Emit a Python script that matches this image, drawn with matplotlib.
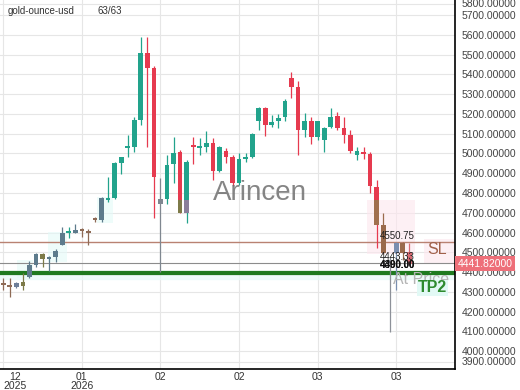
import matplotlib
matplotlib.use("Agg")
import numpy as np
import matplotlib.pyplot as plt
from matplotlib.patches import Rectangle

plt.rcParams["font.family"] = ["Liberation Sans", "DejaVu Sans"]

SYMBOL = "gold-ounce-usd"
COUNT = "63/63"
WATERMARK = "Arincen"

# daily OHLC, 63 candles
opens = [4340, 4334, 4322, 4348, 4373, 4435, 4491, 4466, 4475, 4537,
         4598, 4600, 4611, 4609, 4665, 4665, 4767, 4775, 4953, 5030,
         5035, 5170, 5507, 5431, 4768, 4768, 4945, 5009, 4697, 5037,
         5030, 5035, 5052, 4913, 5014, 4984, 4852, 4972, 4981, 5162,
         5229, 5144, 5162, 5183, 5381, 5338, 5119, 5162, 5082, 5068,
         5136, 5190, 5128, 5094, 4994, 5009, 4998, 4829, 4638, 4461,
         4495, 4545, 4500]
closes = [4336, 4322, 4343, 4329, 4435, 4491, 4464, 4475, 4506, 4596,
          4602, 4613, 4607, 4596, 4669, 4773, 4776, 4953, 4984, 5036,
          5170, 5507, 5431, 4883, 4743, 4943, 5004, 4697, 4958, 5033,
          5040, 5055, 4913, 5035, 4984, 4849, 4971, 4984, 5099, 5229,
          5144, 5158, 5178, 5267, 5338, 5119, 5162, 5082, 5162, 5128,
          5186, 5128, 5094, 5013, 5013, 4998, 4836, 4638, 4495, 4443,
          4545, 4498, 4442]
highs = [4370, 4368, 4350, 4397, 4457, 4498, 4498, 4481, 4515, 4630,
         4630, 4642, 4621, 4616, 4680, 4781, 4883, 4959, 4984, 5094,
         5186, 5592, 5592, 5443, 4878, 4992, 5085, 5018, 4967, 5082,
         5077, 5116, 5077, 5040, 5026, 4992, 5001, 5004, 5105, 5237,
         5237, 5195, 5200, 5274, 5411, 5369, 5204, 5186, 5166, 5136,
         5232, 5212, 5183, 5119, 5035, 5035, 5009, 4866, 4700, 4478,
         4554, 4554, 4548]
lows = [4309, 4275, 4318, 4309, 4368, 4424, 4424, 4407, 4452, 4537,
        4571, 4596, 4579, 4537, 4655, 4655, 4756, 4768, 4896, 4984,
        5009, 5144, 5035, 4672, 4402, 4744, 4849, 4697, 4650, 4947,
        4992, 5009, 4866, 4908, 4950, 4836, 4841, 4959, 4976, 5119,
        5089, 5136, 5128, 5166, 5280, 4992, 5082, 5048, 5068, 5009,
        5128, 5119, 5052, 5001, 4967, 4971, 4799, 4520, 4490, 4098,
        4309, 4461, 4436]

x_ticks = [0, 12, 24, 36, 48, 60]
x_tick_labels = ["12\n2025", "01\n2026", "02", "02", "03", "03"]
y_ticks = list(range(4000, 5701, 100))
y_edge_labels = [5800, 3900]          # squeezed in at the top / bottom edge

sl_level = 4550.75
entry_level = 4443.33
tp_levels = [4390.00, 4400.00]
last_price = 4441.82

# highlight boxes: (first idx, last idx, low, high)
cyan_zones = [(2.1, 4.6, 4370, 4461), (6.8, 9.7, 4451, 4603), (14.3, 16.8, 4648, 4780)]
pink_zones = [(55.6, 62.8, 4490, 4765), (64.3, 69.0, 4440, 4565)]

TEAL = "#22a38c"
RED = "#e63a4f"
GRAYBLUE = "#5d7b8c"
OLIVE = "#7d7a48"
BROWN = "#8e6a55"
body_override = {0: BROWN, 1: BROWN, 2: "#6d7f99", 3: OLIVE, 4: GRAYBLUE, 5: GRAYBLUE,
                 6: OLIVE, 7: GRAYBLUE, 8: GRAYBLUE, 9: GRAYBLUE, 11: GRAYBLUE,
                 12: BROWN, 13: BROWN, 14: BROWN, 15: GRAYBLUE, 24: "#7f8790",
                 58: "#9a6a4c", 59: "#8d9199", 60: "#7a8fb0", 61: "#9a6a4c", 62: "#d86a72"}
# lower part of some bodies shows in another tint
lower_tint = {27: (4765, OLIVE), 28: (4765, "#8a7f9a"), 57: (4765, "#a0704e")}

fig = plt.figure(figsize=(5.2, 3.9), dpi=100)
ax = fig.add_axes([0, 1 - 369 / 390, 455 / 520, 369 / 390])
ax.set_xlim(-0.5, 68.96)
ax.set_ylim(3909, 5777)

idx = np.arange(len(opens))
o, c = np.array(opens, float), np.array(closes, float)
up = c >= o
colors = [body_override.get(i, TEAL if up[i] else RED) for i in idx]

# zones
for x0, x1, lo, hi in cyan_zones:
    ax.add_patch(Rectangle((x0, lo), x1 - x0, hi - lo, fc="#e4faf8", ec="none", alpha=0.6, zorder=1))
for x0, x1, lo, hi in pink_zones:
    ax.add_patch(Rectangle((x0, lo), x1 - x0, hi - lo, fc="#fde6ee", ec="none", alpha=0.6, zorder=1))
ax.axhspan(min(tp_levels) - 25, max(tp_levels) + 6, color="#e8faf8", alpha=0.7, zorder=1)

# candles
ax.vlines(idx, lows, highs, colors=colors, lw=0.9, zorder=3)
bottoms = np.minimum(o, c)
heights = np.maximum(np.abs(c - o), 9)
ax.bar(idx, heights, bottom=bottoms, width=0.72, color=colors, zorder=4)
for i, (top, col) in lower_tint.items():
    b = bottoms[i]
    ax.bar(i, min(top, b + heights[i]) - b, bottom=b, width=0.72, color=col, zorder=5)

# levels
ax.axhline(sl_level, color="#b98272", lw=1.0, zorder=2)
ax.axhline(entry_level, color="#8c8c8c", lw=0.8, zorder=2)
for lv in tp_levels:
    ax.axhline(lv, color="#1f7a1f", lw=1.6, zorder=2)

ax.text(57.5, sl_level + 8, f"{sl_level:.2f}", fontsize=7, color="#222", va="bottom", zorder=6)
ax.text(57.5, entry_level + 8, f"{entry_level:.2f}", fontsize=7, color="#222", va="bottom", zorder=6)
for lv in tp_levels:
    ax.text(57.5, max(tp_levels) + 12, f"{lv:.2f}", fontsize=7, color="#111",
            fontweight="bold", va="bottom", zorder=6)
ax.text(64.8, 4515, "SL", fontsize=11.5, color="#a0604a", va="center", zorder=6)
ax.text(59.5, 4362, "At Price", fontsize=11.5, color="#b5b5b5", va="center",
        zorder=6, clip_on=True)
ax.text(63.3, 4320, "TP2", fontsize=11.5, color="#2e8b2e", fontweight="bold", va="center",
        zorder=7, bbox=dict(boxstyle="square,pad=0.05", fc="#e2f9f5", ec="none"))

ax.text(39.2, 4800, WATERMARK, fontsize=20, color="#707070", ha="center", va="center",
        alpha=0.85, zorder=6)

# axes styling
for s in ("left", "top"):
    ax.spines[s].set_visible(False)
for s in ("right", "bottom"):
    ax.spines[s].set_color("black")
    ax.spines[s].set_linewidth(1.2)
ax.yaxis.tick_right()
ax.set_yticks(y_ticks)
ax.set_yticklabels([f"{v:.5f}" for v in y_ticks])
ax.set_xticks(x_ticks)
ax.set_xticklabels(x_tick_labels, linespacing=0.95)
ax.tick_params(axis="y", length=0, pad=5, labelsize=7.5, labelcolor="#444")
ax.tick_params(axis="x", length=0, pad=2, labelsize=7.5, labelcolor="#333")
ax.get_xticklabels()[0].set_ha("left")
ax.get_xticklabels()[0].set_multialignment("center")
ax.grid(True, color="#e6e6e6", lw=0.8, zorder=0)
ax.set_axisbelow(True)

for v, frac in zip(y_edge_labels, (0.989, 0.019)):
    ax.text(1.0154, frac, f"{v:.5f}", transform=ax.transAxes, fontsize=7.5, color="#444",
            va="center", ha="left", clip_on=False)
    ax.plot([0, 1], [frac, frac], transform=ax.transAxes, color="#e6e6e6", lw=0.8, zorder=0)

ax.text(1.006, last_price, f"{last_price:.5f}", transform=ax.get_yaxis_transform(),
        fontsize=7.5, color="white", va="center", ha="left", clip_on=False, zorder=10,
        bbox=dict(boxstyle="square,pad=0.25", fc="#ee6f79", ec="none"))

fig.text(8 / 520, 1 - 11 / 390, SYMBOL, fontsize=7, color="#333", va="center")
fig.text(97 / 520, 1 - 11 / 390, COUNT, fontsize=7, color="#333", va="center")

fig.savefig("out.png", dpi=100)
